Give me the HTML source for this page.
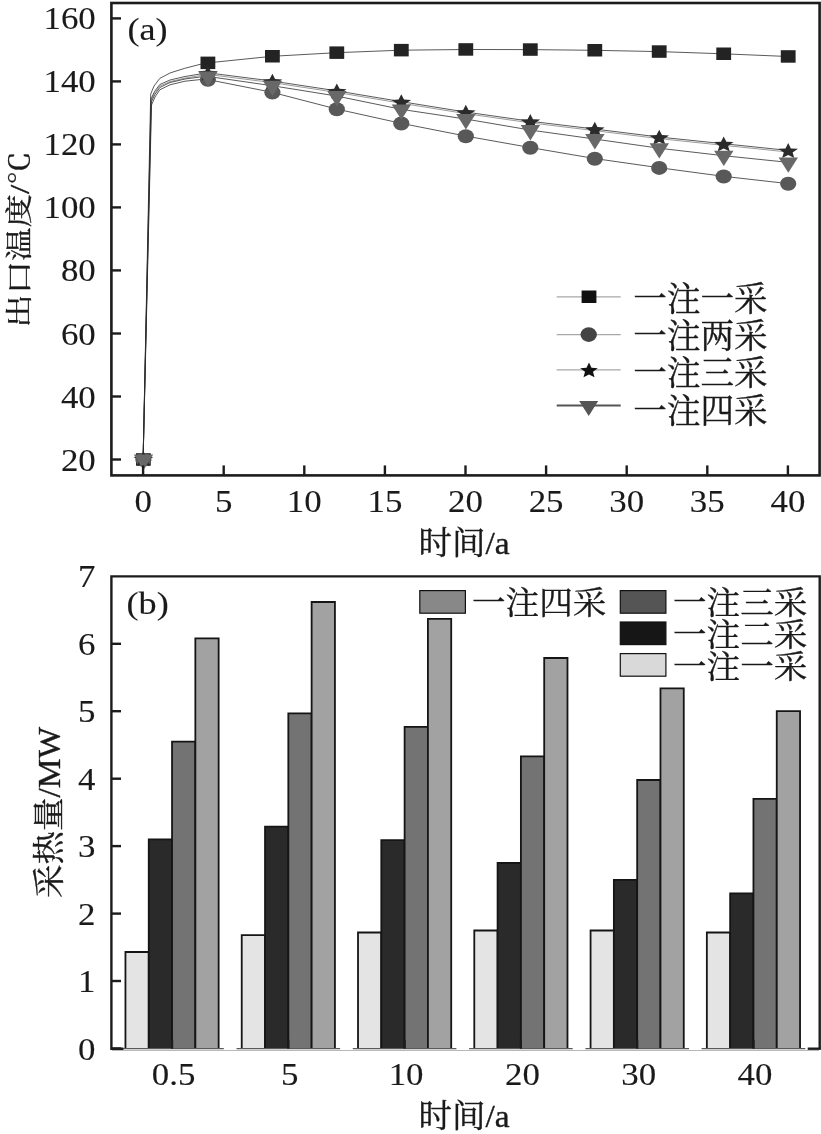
<!DOCTYPE html>
<html lang="zh"><head><meta charset="utf-8"><title>Figure</title>
<style>html,body{margin:0;padding:0;background:#fff}svg{display:block}text{font-family:"Liberation Serif", "Noto Serif CJK SC", serif;fill:#1a1a1a}</style>
</head><body>
<svg width="821" height="1134" viewBox="0 0 821 1134">
<rect x="0" y="0" width="821" height="1134" fill="#fff"/>
<g id="chart-a">
<path d="M143.1,459.5 L150.7,94.0 L154.0,86.0 L159.8,78.4 L170.2,72.9 L184.8,68.3 L200.0,64.4 L207.6,62.9 L272.1,56.3 L336.5,52.7 L401.0,50.2 L465.5,49.5 L530.0,49.6 L594.5,50.3 L658.9,51.6 L723.4,53.8 L787.9,56.5" fill="none" stroke="#2c2c2c" stroke-width="1" stroke-opacity="0.78"/>
<path d="M143.1,459.5 L151.5,105.0 L155.0,97.0 L159.8,89.8 L170.0,84.8 L185.0,81.2 L200.0,79.6 L207.6,79.5 L272.1,92.3 L336.5,109.0 L401.0,123.3 L465.5,136.0 L530.0,147.5 L594.5,158.5 L658.9,167.7 L723.4,176.3 L787.9,183.6" fill="none" stroke="#2c2c2c" stroke-width="1" stroke-opacity="0.78"/>
<path d="M143.1,459.5 L151.0,99.0 L154.5,91.5 L159.8,84.5 L170.0,80.0 L185.0,76.5 L200.0,74.0 L207.6,72.8 L272.1,81.0 L336.5,90.8 L401.0,101.6 L465.5,112.0 L530.0,121.2 L594.5,129.0 L658.9,137.0 L723.4,143.7 L787.9,150.4" fill="none" stroke="#2c2c2c" stroke-width="1" stroke-opacity="0.78"/>
<path d="M143.1,459.5 L151.3,102.0 L154.8,94.5 L159.8,87.5 L170.0,82.5 L185.0,79.0 L200.0,77.0 L207.6,76.4 L272.1,85.7 L336.5,96.0 L401.0,109.3 L465.5,119.0 L530.0,130.0 L594.5,139.0 L658.9,148.2 L723.4,155.7 L787.9,162.3" fill="none" stroke="#2c2c2c" stroke-width="1" stroke-opacity="0.78"/>
<path d="M143.1,459.5 L151.0,99.0 L154.5,91.5 L159.8,84.5 L170.0,80.0 L185.0,76.5 L200.0,74.0 L207.6,72.8 L272.1,81.0 L336.5,90.8 L401.0,101.6 L465.5,112.0 L530.0,121.2 L594.5,129.0 L658.9,137.0 L723.4,143.7 L787.9,150.4" fill="none" stroke="#2c2c2c" stroke-width="0.8" stroke-opacity="0.6" transform="translate(0,1.6)"/>
<rect x="136.0" y="453.2" width="14.8" height="12.5" fill="#232323"/>
<rect x="200.5" y="56.6" width="14.8" height="12.5" fill="#232323"/>
<rect x="265.0" y="50.0" width="14.8" height="12.5" fill="#232323"/>
<rect x="329.4" y="46.4" width="14.8" height="12.5" fill="#232323"/>
<rect x="393.9" y="43.9" width="14.8" height="12.5" fill="#232323"/>
<rect x="458.4" y="43.2" width="14.8" height="12.5" fill="#232323"/>
<rect x="522.9" y="43.3" width="14.8" height="12.5" fill="#232323"/>
<rect x="587.4" y="44.0" width="14.8" height="12.5" fill="#232323"/>
<rect x="651.8" y="45.3" width="14.8" height="12.5" fill="#232323"/>
<rect x="716.3" y="47.5" width="14.8" height="12.5" fill="#232323"/>
<rect x="780.8" y="50.2" width="14.8" height="12.5" fill="#232323"/>
<ellipse cx="143.4" cy="459.7" rx="8.1" ry="7.0" fill="#585858"/>
<ellipse cx="207.9" cy="79.7" rx="8.1" ry="7.0" fill="#585858"/>
<ellipse cx="272.4" cy="92.5" rx="8.1" ry="7.0" fill="#585858"/>
<ellipse cx="336.8" cy="109.2" rx="8.1" ry="7.0" fill="#585858"/>
<ellipse cx="401.3" cy="123.5" rx="8.1" ry="7.0" fill="#585858"/>
<ellipse cx="465.8" cy="136.2" rx="8.1" ry="7.0" fill="#585858"/>
<ellipse cx="530.3" cy="147.7" rx="8.1" ry="7.0" fill="#585858"/>
<ellipse cx="594.8" cy="158.7" rx="8.1" ry="7.0" fill="#585858"/>
<ellipse cx="659.2" cy="167.9" rx="8.1" ry="7.0" fill="#585858"/>
<ellipse cx="723.7" cy="176.5" rx="8.1" ry="7.0" fill="#585858"/>
<ellipse cx="788.2" cy="183.8" rx="8.1" ry="7.0" fill="#585858"/>
<polygon points="143.4,451.2 146.1,456.5 153.2,456.9 147.8,460.7 149.5,466.2 143.4,463.2 137.3,466.2 139.0,460.7 133.6,456.9 140.7,456.5" fill="#2b2b2b"/>
<polygon points="207.9,65.5 210.6,70.8 217.7,71.2 212.3,75.0 213.9,80.5 207.9,77.5 201.8,80.5 203.5,75.0 198.1,71.2 205.2,70.8" fill="#2b2b2b"/>
<polygon points="272.4,73.7 275.1,79.0 282.2,79.4 276.8,83.2 278.4,88.7 272.4,85.7 266.3,88.7 268.0,83.2 262.6,79.4 269.6,79.0" fill="#2b2b2b"/>
<polygon points="336.8,83.5 339.6,88.8 346.6,89.2 341.2,93.0 342.9,98.5 336.8,95.5 330.8,98.5 332.4,93.0 327.0,89.2 334.1,88.8" fill="#2b2b2b"/>
<polygon points="401.3,94.3 404.0,99.6 411.1,100.0 405.7,103.8 407.4,109.3 401.3,106.3 395.3,109.3 396.9,103.8 391.5,100.0 398.6,99.6" fill="#2b2b2b"/>
<polygon points="465.8,104.7 468.5,110.0 475.6,110.4 470.2,114.2 471.9,119.7 465.8,116.7 459.7,119.7 461.4,114.2 456.0,110.4 463.1,110.0" fill="#2b2b2b"/>
<polygon points="530.3,113.9 533.0,119.2 540.1,119.6 534.7,123.4 536.3,128.9 530.3,125.9 524.2,128.9 525.9,123.4 520.5,119.6 527.6,119.2" fill="#2b2b2b"/>
<polygon points="594.8,121.7 597.5,127.0 604.6,127.4 599.2,131.2 600.8,136.7 594.8,133.7 588.7,136.7 590.4,131.2 585.0,127.4 592.0,127.0" fill="#2b2b2b"/>
<polygon points="659.2,129.7 662.0,135.0 669.0,135.4 663.6,139.2 665.3,144.7 659.2,141.7 653.2,144.7 654.8,139.2 649.4,135.4 656.5,135.0" fill="#2b2b2b"/>
<polygon points="723.7,136.4 726.4,141.7 733.5,142.1 728.1,145.9 729.8,151.4 723.7,148.4 717.7,151.4 719.3,145.9 713.9,142.1 721.0,141.7" fill="#2b2b2b"/>
<polygon points="788.2,143.1 790.9,148.4 798.0,148.8 792.6,152.6 794.3,158.1 788.2,155.1 782.1,158.1 783.8,152.6 778.4,148.8 785.5,148.4" fill="#2b2b2b"/>
<polygon points="133.8,454.6 153.2,454.6 143.5,469.9" fill="#686868"/>
<polygon points="198.3,71.5 217.7,71.5 208.0,86.8" fill="#686868"/>
<polygon points="262.8,80.8 282.2,80.8 272.5,96.1" fill="#686868"/>
<polygon points="327.2,91.1 346.6,91.1 336.9,106.4" fill="#686868"/>
<polygon points="391.7,104.4 411.1,104.4 401.4,119.7" fill="#686868"/>
<polygon points="456.2,114.1 475.6,114.1 465.9,129.4" fill="#686868"/>
<polygon points="520.7,125.1 540.1,125.1 530.4,140.4" fill="#686868"/>
<polygon points="585.2,134.1 604.6,134.1 594.9,149.4" fill="#686868"/>
<polygon points="649.6,143.3 669.0,143.3 659.3,158.6" fill="#686868"/>
<polygon points="714.1,150.8 733.5,150.8 723.8,166.1" fill="#686868"/>
<polygon points="778.6,157.4 798.0,157.4 788.3,172.7" fill="#686868"/>
<rect x="111.4" y="3.0" width="708.2" height="472.4" fill="none" stroke="#1c1c1c" stroke-width="2.6"/>
<line x1="111.4" y1="459.5" x2="121.0" y2="459.5" stroke="#1c1c1c" stroke-width="2.4"/>
<text transform="translate(95.8,470.5) scale(1.090,1.000)" font-size="32" text-anchor="end" stroke="#1a1a1a" stroke-width="0.12">20</text>
<line x1="111.4" y1="396.5" x2="121.0" y2="396.5" stroke="#1c1c1c" stroke-width="2.4"/>
<text transform="translate(95.8,407.5) scale(1.090,1.000)" font-size="32" text-anchor="end" stroke="#1a1a1a" stroke-width="0.12">40</text>
<line x1="111.4" y1="333.5" x2="121.0" y2="333.5" stroke="#1c1c1c" stroke-width="2.4"/>
<text transform="translate(95.8,344.5) scale(1.090,1.000)" font-size="32" text-anchor="end" stroke="#1a1a1a" stroke-width="0.12">60</text>
<line x1="111.4" y1="270.4" x2="121.0" y2="270.4" stroke="#1c1c1c" stroke-width="2.4"/>
<text transform="translate(95.8,281.4) scale(1.090,1.000)" font-size="32" text-anchor="end" stroke="#1a1a1a" stroke-width="0.12">80</text>
<line x1="111.4" y1="207.4" x2="121.0" y2="207.4" stroke="#1c1c1c" stroke-width="2.4"/>
<text transform="translate(95.8,218.4) scale(1.090,1.000)" font-size="32" text-anchor="end" stroke="#1a1a1a" stroke-width="0.12">100</text>
<line x1="111.4" y1="144.4" x2="121.0" y2="144.4" stroke="#1c1c1c" stroke-width="2.4"/>
<text transform="translate(95.8,155.4) scale(1.090,1.000)" font-size="32" text-anchor="end" stroke="#1a1a1a" stroke-width="0.12">120</text>
<line x1="111.4" y1="81.4" x2="121.0" y2="81.4" stroke="#1c1c1c" stroke-width="2.4"/>
<text transform="translate(95.8,92.4) scale(1.090,1.000)" font-size="32" text-anchor="end" stroke="#1a1a1a" stroke-width="0.12">140</text>
<line x1="111.4" y1="18.4" x2="121.0" y2="18.4" stroke="#1c1c1c" stroke-width="2.4"/>
<text transform="translate(95.8,29.4) scale(1.090,1.000)" font-size="32" text-anchor="end" stroke="#1a1a1a" stroke-width="0.12">160</text>
<line x1="143.1" y1="475.4" x2="143.1" y2="465.4" stroke="#1c1c1c" stroke-width="2.4"/>
<text transform="translate(143.1,512.3) scale(1.090,1.000)" font-size="32" text-anchor="middle" stroke="#1a1a1a" stroke-width="0.12">0</text>
<line x1="223.7" y1="475.4" x2="223.7" y2="465.4" stroke="#1c1c1c" stroke-width="2.4"/>
<text transform="translate(223.7,512.3) scale(1.090,1.000)" font-size="32" text-anchor="middle" stroke="#1a1a1a" stroke-width="0.12">5</text>
<line x1="304.3" y1="475.4" x2="304.3" y2="465.4" stroke="#1c1c1c" stroke-width="2.4"/>
<text transform="translate(304.3,512.3) scale(1.090,1.000)" font-size="32" text-anchor="middle" stroke="#1a1a1a" stroke-width="0.12">10</text>
<line x1="384.9" y1="475.4" x2="384.9" y2="465.4" stroke="#1c1c1c" stroke-width="2.4"/>
<text transform="translate(384.9,512.3) scale(1.090,1.000)" font-size="32" text-anchor="middle" stroke="#1a1a1a" stroke-width="0.12">15</text>
<line x1="465.5" y1="475.4" x2="465.5" y2="465.4" stroke="#1c1c1c" stroke-width="2.4"/>
<text transform="translate(465.5,512.3) scale(1.090,1.000)" font-size="32" text-anchor="middle" stroke="#1a1a1a" stroke-width="0.12">20</text>
<line x1="546.1" y1="475.4" x2="546.1" y2="465.4" stroke="#1c1c1c" stroke-width="2.4"/>
<text transform="translate(546.1,512.3) scale(1.090,1.000)" font-size="32" text-anchor="middle" stroke="#1a1a1a" stroke-width="0.12">25</text>
<line x1="626.7" y1="475.4" x2="626.7" y2="465.4" stroke="#1c1c1c" stroke-width="2.4"/>
<text transform="translate(626.7,512.3) scale(1.090,1.000)" font-size="32" text-anchor="middle" stroke="#1a1a1a" stroke-width="0.12">30</text>
<line x1="707.3" y1="475.4" x2="707.3" y2="465.4" stroke="#1c1c1c" stroke-width="2.4"/>
<text transform="translate(707.3,512.3) scale(1.090,1.000)" font-size="32" text-anchor="middle" stroke="#1a1a1a" stroke-width="0.12">35</text>
<line x1="787.9" y1="475.4" x2="787.9" y2="465.4" stroke="#1c1c1c" stroke-width="2.4"/>
<text transform="translate(787.9,512.3) scale(1.090,1.000)" font-size="32" text-anchor="middle" stroke="#1a1a1a" stroke-width="0.12">40</text>
<text transform="translate(127.5,40.2) scale(1.110,1.000)" font-size="32.6" text-anchor="start" stroke="#1a1a1a" stroke-width="0.12">(a)</text>
<text transform="translate(464.0,553.6) scale(1.000,0.950)" font-size="33.5" text-anchor="middle" stroke="#1a1a1a" stroke-width="0.38">时间/a</text>
<text transform="translate(28.5,239.5) rotate(-90) scale(1.000,0.830)" font-size="33.5" text-anchor="middle" stroke="#1a1a1a" stroke-width="0.38">出口温度/℃</text>
<line x1="556.7" y1="296.8" x2="620.7" y2="296.8" stroke="#a8a8a8" stroke-width="1.3"/>
<rect x="581.6" y="290.5" width="14.8" height="12.5" fill="#111"/>
<text transform="translate(633.3,311.2)" font-size="33.6" text-anchor="start" stroke="#1a1a1a" stroke-width="0.38">一注一采</text>
<line x1="556.7" y1="334.6" x2="620.7" y2="334.6" stroke="#a8a8a8" stroke-width="1.3"/>
<ellipse cx="588.7" cy="334.6" rx="8.2" ry="7.3" fill="#444"/>
<text transform="translate(633.3,348.1)" font-size="33.6" text-anchor="start" stroke="#1a1a1a" stroke-width="0.38">一注两采</text>
<line x1="556.7" y1="369.9" x2="620.7" y2="369.9" stroke="#a8a8a8" stroke-width="1.3"/>
<polygon points="589.0,362.5 591.5,367.7 597.8,368.2 593.0,371.8 594.5,377.3 589.0,374.4 583.5,377.3 585.0,371.8 580.2,368.2 586.5,367.7" fill="#111"/>
<text transform="translate(633.3,385.2)" font-size="33.6" text-anchor="start" stroke="#1a1a1a" stroke-width="0.38">一注三采</text>
<line x1="556.7" y1="405.5" x2="620.7" y2="405.5" stroke="#555" stroke-width="1.8"/>
<polygon points="579.2,401.0 598.2,401.0 588.7,416.0" fill="#555"/>
<text transform="translate(633.3,422.7)" font-size="33.6" text-anchor="start" stroke="#1a1a1a" stroke-width="0.38">一注四采</text>
</g>
<g id="chart-b">
<line x1="112" y1="1050.5" x2="819" y2="1050.5" stroke="#b8b8b8" stroke-width="1.2"/>
<rect x="125.45" y="952.0" width="23.30" height="96.7" fill="#e4e4e4"/>
<path d="M125.45,1048.7 L125.45,952.0 L148.75,952.0 L148.75,1048.7" fill="none" stroke="#151515" stroke-width="1.8"/>
<rect x="148.75" y="839.4" width="23.30" height="209.3" fill="#2a2a2a"/>
<path d="M148.75,1048.7 L148.75,839.4 L172.05,839.4 L172.05,1048.7" fill="none" stroke="#151515" stroke-width="1.8"/>
<rect x="172.05" y="741.6" width="23.30" height="307.1" fill="#737373"/>
<path d="M172.05,1048.7 L172.05,741.6 L195.35,741.6 L195.35,1048.7" fill="none" stroke="#151515" stroke-width="1.8"/>
<rect x="195.35" y="638.4" width="23.30" height="410.3" fill="#a2a2a2"/>
<path d="M195.35,1048.7 L195.35,638.4 L218.65,638.4 L218.65,1048.7" fill="none" stroke="#151515" stroke-width="1.8"/>
<line x1="120.3" y1="1048.6" x2="223.8" y2="1048.6" stroke="#5a5a5a" stroke-width="1.1"/>
<line x1="172.1" y1="1048.7" x2="172.1" y2="1039.7" stroke="#1c1c1c" stroke-width="2.2"/>
<text transform="translate(173.6,1085.4) scale(1.090,1.000)" font-size="32" text-anchor="middle" stroke="#1a1a1a" stroke-width="0.12">0.5</text>
<rect x="241.73" y="935.2" width="23.30" height="113.5" fill="#e4e4e4"/>
<path d="M241.73,1048.7 L241.73,935.2 L265.03,935.2 L265.03,1048.7" fill="none" stroke="#151515" stroke-width="1.8"/>
<rect x="265.03" y="826.6" width="23.30" height="222.1" fill="#2a2a2a"/>
<path d="M265.03,1048.7 L265.03,826.6 L288.33,826.6 L288.33,1048.7" fill="none" stroke="#151515" stroke-width="1.8"/>
<rect x="288.33" y="713.3" width="23.30" height="335.4" fill="#737373"/>
<path d="M288.33,1048.7 L288.33,713.3 L311.63,713.3 L311.63,1048.7" fill="none" stroke="#151515" stroke-width="1.8"/>
<rect x="311.63" y="602.0" width="23.30" height="446.7" fill="#a2a2a2"/>
<path d="M311.63,1048.7 L311.63,602.0 L334.93,602.0 L334.93,1048.7" fill="none" stroke="#151515" stroke-width="1.8"/>
<line x1="236.5" y1="1048.6" x2="340.1" y2="1048.6" stroke="#5a5a5a" stroke-width="1.1"/>
<line x1="288.3" y1="1048.7" x2="288.3" y2="1039.7" stroke="#1c1c1c" stroke-width="2.2"/>
<text transform="translate(289.8,1085.4) scale(1.090,1.000)" font-size="32" text-anchor="middle" stroke="#1a1a1a" stroke-width="0.12">5</text>
<rect x="358.01" y="932.5" width="23.30" height="116.2" fill="#e4e4e4"/>
<path d="M358.01,1048.7 L358.01,932.5 L381.31,932.5 L381.31,1048.7" fill="none" stroke="#151515" stroke-width="1.8"/>
<rect x="381.31" y="840.1" width="23.30" height="208.6" fill="#2a2a2a"/>
<path d="M381.31,1048.7 L381.31,840.1 L404.61,840.1 L404.61,1048.7" fill="none" stroke="#151515" stroke-width="1.8"/>
<rect x="404.61" y="726.8" width="23.30" height="321.9" fill="#737373"/>
<path d="M404.61,1048.7 L404.61,726.8 L427.91,726.8 L427.91,1048.7" fill="none" stroke="#151515" stroke-width="1.8"/>
<rect x="427.91" y="618.8" width="23.30" height="429.9" fill="#a2a2a2"/>
<path d="M427.91,1048.7 L427.91,618.8 L451.21,618.8 L451.21,1048.7" fill="none" stroke="#151515" stroke-width="1.8"/>
<line x1="352.8" y1="1048.6" x2="456.4" y2="1048.6" stroke="#5a5a5a" stroke-width="1.1"/>
<line x1="404.6" y1="1048.7" x2="404.6" y2="1039.7" stroke="#1c1c1c" stroke-width="2.2"/>
<text transform="translate(406.1,1085.4) scale(1.090,1.000)" font-size="32" text-anchor="middle" stroke="#1a1a1a" stroke-width="0.12">10</text>
<rect x="474.29" y="930.5" width="23.30" height="118.2" fill="#e4e4e4"/>
<path d="M474.29,1048.7 L474.29,930.5 L497.59,930.5 L497.59,1048.7" fill="none" stroke="#151515" stroke-width="1.8"/>
<rect x="497.59" y="863.0" width="23.30" height="185.7" fill="#2a2a2a"/>
<path d="M497.59,1048.7 L497.59,863.0 L520.89,863.0 L520.89,1048.7" fill="none" stroke="#151515" stroke-width="1.8"/>
<rect x="520.89" y="756.4" width="23.30" height="292.3" fill="#737373"/>
<path d="M520.89,1048.7 L520.89,756.4 L544.19,756.4 L544.19,1048.7" fill="none" stroke="#151515" stroke-width="1.8"/>
<rect x="544.19" y="658.0" width="23.30" height="390.7" fill="#a2a2a2"/>
<path d="M544.19,1048.7 L544.19,658.0 L567.49,658.0 L567.49,1048.7" fill="none" stroke="#151515" stroke-width="1.8"/>
<line x1="469.1" y1="1048.6" x2="572.7" y2="1048.6" stroke="#5a5a5a" stroke-width="1.1"/>
<line x1="520.9" y1="1048.7" x2="520.9" y2="1039.7" stroke="#1c1c1c" stroke-width="2.2"/>
<text transform="translate(522.4,1085.4) scale(1.090,1.000)" font-size="32" text-anchor="middle" stroke="#1a1a1a" stroke-width="0.12">20</text>
<rect x="590.57" y="930.5" width="23.30" height="118.2" fill="#e4e4e4"/>
<path d="M590.57,1048.7 L590.57,930.5 L613.87,930.5 L613.87,1048.7" fill="none" stroke="#151515" stroke-width="1.8"/>
<rect x="613.87" y="879.9" width="23.30" height="168.8" fill="#2a2a2a"/>
<path d="M613.87,1048.7 L613.87,879.9 L637.17,879.9 L637.17,1048.7" fill="none" stroke="#151515" stroke-width="1.8"/>
<rect x="637.17" y="780.0" width="23.30" height="268.7" fill="#737373"/>
<path d="M637.17,1048.7 L637.17,780.0 L660.47,780.0 L660.47,1048.7" fill="none" stroke="#151515" stroke-width="1.8"/>
<rect x="660.47" y="688.3" width="23.30" height="360.4" fill="#a2a2a2"/>
<path d="M660.47,1048.7 L660.47,688.3 L683.77,688.3 L683.77,1048.7" fill="none" stroke="#151515" stroke-width="1.8"/>
<line x1="585.4" y1="1048.6" x2="689.0" y2="1048.6" stroke="#5a5a5a" stroke-width="1.1"/>
<line x1="637.2" y1="1048.7" x2="637.2" y2="1039.7" stroke="#1c1c1c" stroke-width="2.2"/>
<text transform="translate(638.7,1085.4) scale(1.090,1.000)" font-size="32" text-anchor="middle" stroke="#1a1a1a" stroke-width="0.12">30</text>
<rect x="706.85" y="932.5" width="23.30" height="116.2" fill="#e4e4e4"/>
<path d="M706.85,1048.7 L706.85,932.5 L730.15,932.5 L730.15,1048.7" fill="none" stroke="#151515" stroke-width="1.8"/>
<rect x="730.15" y="893.4" width="23.30" height="155.3" fill="#2a2a2a"/>
<path d="M730.15,1048.7 L730.15,893.4 L753.45,893.4 L753.45,1048.7" fill="none" stroke="#151515" stroke-width="1.8"/>
<rect x="753.45" y="798.9" width="23.30" height="249.8" fill="#737373"/>
<path d="M753.45,1048.7 L753.45,798.9 L776.75,798.9 L776.75,1048.7" fill="none" stroke="#151515" stroke-width="1.8"/>
<rect x="776.75" y="711.2" width="23.30" height="337.5" fill="#a2a2a2"/>
<path d="M776.75,1048.7 L776.75,711.2 L800.05,711.2 L800.05,1048.7" fill="none" stroke="#151515" stroke-width="1.8"/>
<line x1="701.6" y1="1048.6" x2="805.3" y2="1048.6" stroke="#5a5a5a" stroke-width="1.1"/>
<line x1="753.5" y1="1048.7" x2="753.5" y2="1039.7" stroke="#1c1c1c" stroke-width="2.2"/>
<text transform="translate(755.0,1085.4) scale(1.090,1.000)" font-size="32" text-anchor="middle" stroke="#1a1a1a" stroke-width="0.12">40</text>
<path d="M123.4,1048.7 L111.4,1048.7 L111.4,576.4 L819.7,576.4 L819.7,1048.7" fill="none" stroke="#1c1c1c" stroke-width="2.4"/>
<line x1="807.7" y1="1048.7" x2="820.9" y2="1048.7" stroke="#1c1c1c" stroke-width="2.4"/>
<line x1="111.4" y1="1048.5" x2="121.0" y2="1048.5" stroke="#1c1c1c" stroke-width="2.4"/>
<line x1="111.4" y1="981.0" x2="121.0" y2="981.0" stroke="#1c1c1c" stroke-width="2.4"/>
<line x1="111.4" y1="913.6" x2="121.0" y2="913.6" stroke="#1c1c1c" stroke-width="2.4"/>
<line x1="111.4" y1="846.1" x2="121.0" y2="846.1" stroke="#1c1c1c" stroke-width="2.4"/>
<line x1="111.4" y1="778.7" x2="121.0" y2="778.7" stroke="#1c1c1c" stroke-width="2.4"/>
<line x1="111.4" y1="711.2" x2="121.0" y2="711.2" stroke="#1c1c1c" stroke-width="2.4"/>
<line x1="111.4" y1="643.8" x2="121.0" y2="643.8" stroke="#1c1c1c" stroke-width="2.4"/>
<text transform="translate(95.5,1059.6) scale(1.090,1.000)" font-size="32" text-anchor="end" stroke="#1a1a1a" stroke-width="0.12">0</text>
<text transform="translate(95.5,992.1) scale(1.090,1.000)" font-size="32" text-anchor="end" stroke="#1a1a1a" stroke-width="0.12">1</text>
<text transform="translate(95.5,924.7) scale(1.090,1.000)" font-size="32" text-anchor="end" stroke="#1a1a1a" stroke-width="0.12">2</text>
<text transform="translate(95.5,857.2) scale(1.090,1.000)" font-size="32" text-anchor="end" stroke="#1a1a1a" stroke-width="0.12">3</text>
<text transform="translate(95.5,789.8) scale(1.090,1.000)" font-size="32" text-anchor="end" stroke="#1a1a1a" stroke-width="0.12">4</text>
<text transform="translate(95.5,722.4) scale(1.090,1.000)" font-size="32" text-anchor="end" stroke="#1a1a1a" stroke-width="0.12">5</text>
<text transform="translate(95.5,654.9) scale(1.090,1.000)" font-size="32" text-anchor="end" stroke="#1a1a1a" stroke-width="0.12">6</text>
<text transform="translate(95.5,587.4) scale(1.090,1.000)" font-size="32" text-anchor="end" stroke="#1a1a1a" stroke-width="0.12">7</text>
<text transform="translate(126.5,613.5) scale(1.110,1.000)" font-size="32.6" text-anchor="start" stroke="#1a1a1a" stroke-width="0.12">(b)</text>
<text transform="translate(464.0,1127.2) scale(1.000,0.950)" font-size="33.5" text-anchor="middle" stroke="#1a1a1a" stroke-width="0.38">时间/a</text>
<text transform="translate(60.0,812.5) rotate(-90) scale(1.000,0.940)" font-size="33.5" text-anchor="middle" stroke="#1a1a1a" stroke-width="0.38">采热量/MW</text>
<rect x="419.8" y="590.6" width="45.6" height="22.6" fill="#888" stroke="#111" stroke-width="1.2"/>
<text transform="translate(472.0,613.8) scale(1.000,0.950)" font-size="33.6" text-anchor="start" stroke="#1a1a1a" stroke-width="0.38">一注四采</text>
<rect x="620.3" y="590.6" width="45.6" height="22.6" fill="#555" stroke="#111" stroke-width="1.2"/>
<text transform="translate(673.0,613.8) scale(1.000,0.950)" font-size="33.6" text-anchor="start" stroke="#1a1a1a" stroke-width="0.38">一注三采</text>
<rect x="620.3" y="622.0" width="45.6" height="22.6" fill="#161616" stroke="#111" stroke-width="1.2"/>
<text transform="translate(673.0,646.0) scale(1.000,0.950)" font-size="33.6" text-anchor="start" stroke="#1a1a1a" stroke-width="0.38">一注二采</text>
<rect x="620.3" y="653.6" width="45.6" height="22.6" fill="#d9d9d9" stroke="#111" stroke-width="1.2"/>
<text transform="translate(673.0,678.1) scale(1.000,0.950)" font-size="33.6" text-anchor="start" stroke="#1a1a1a" stroke-width="0.38">一注一采</text>
</g>
</svg></body></html>
